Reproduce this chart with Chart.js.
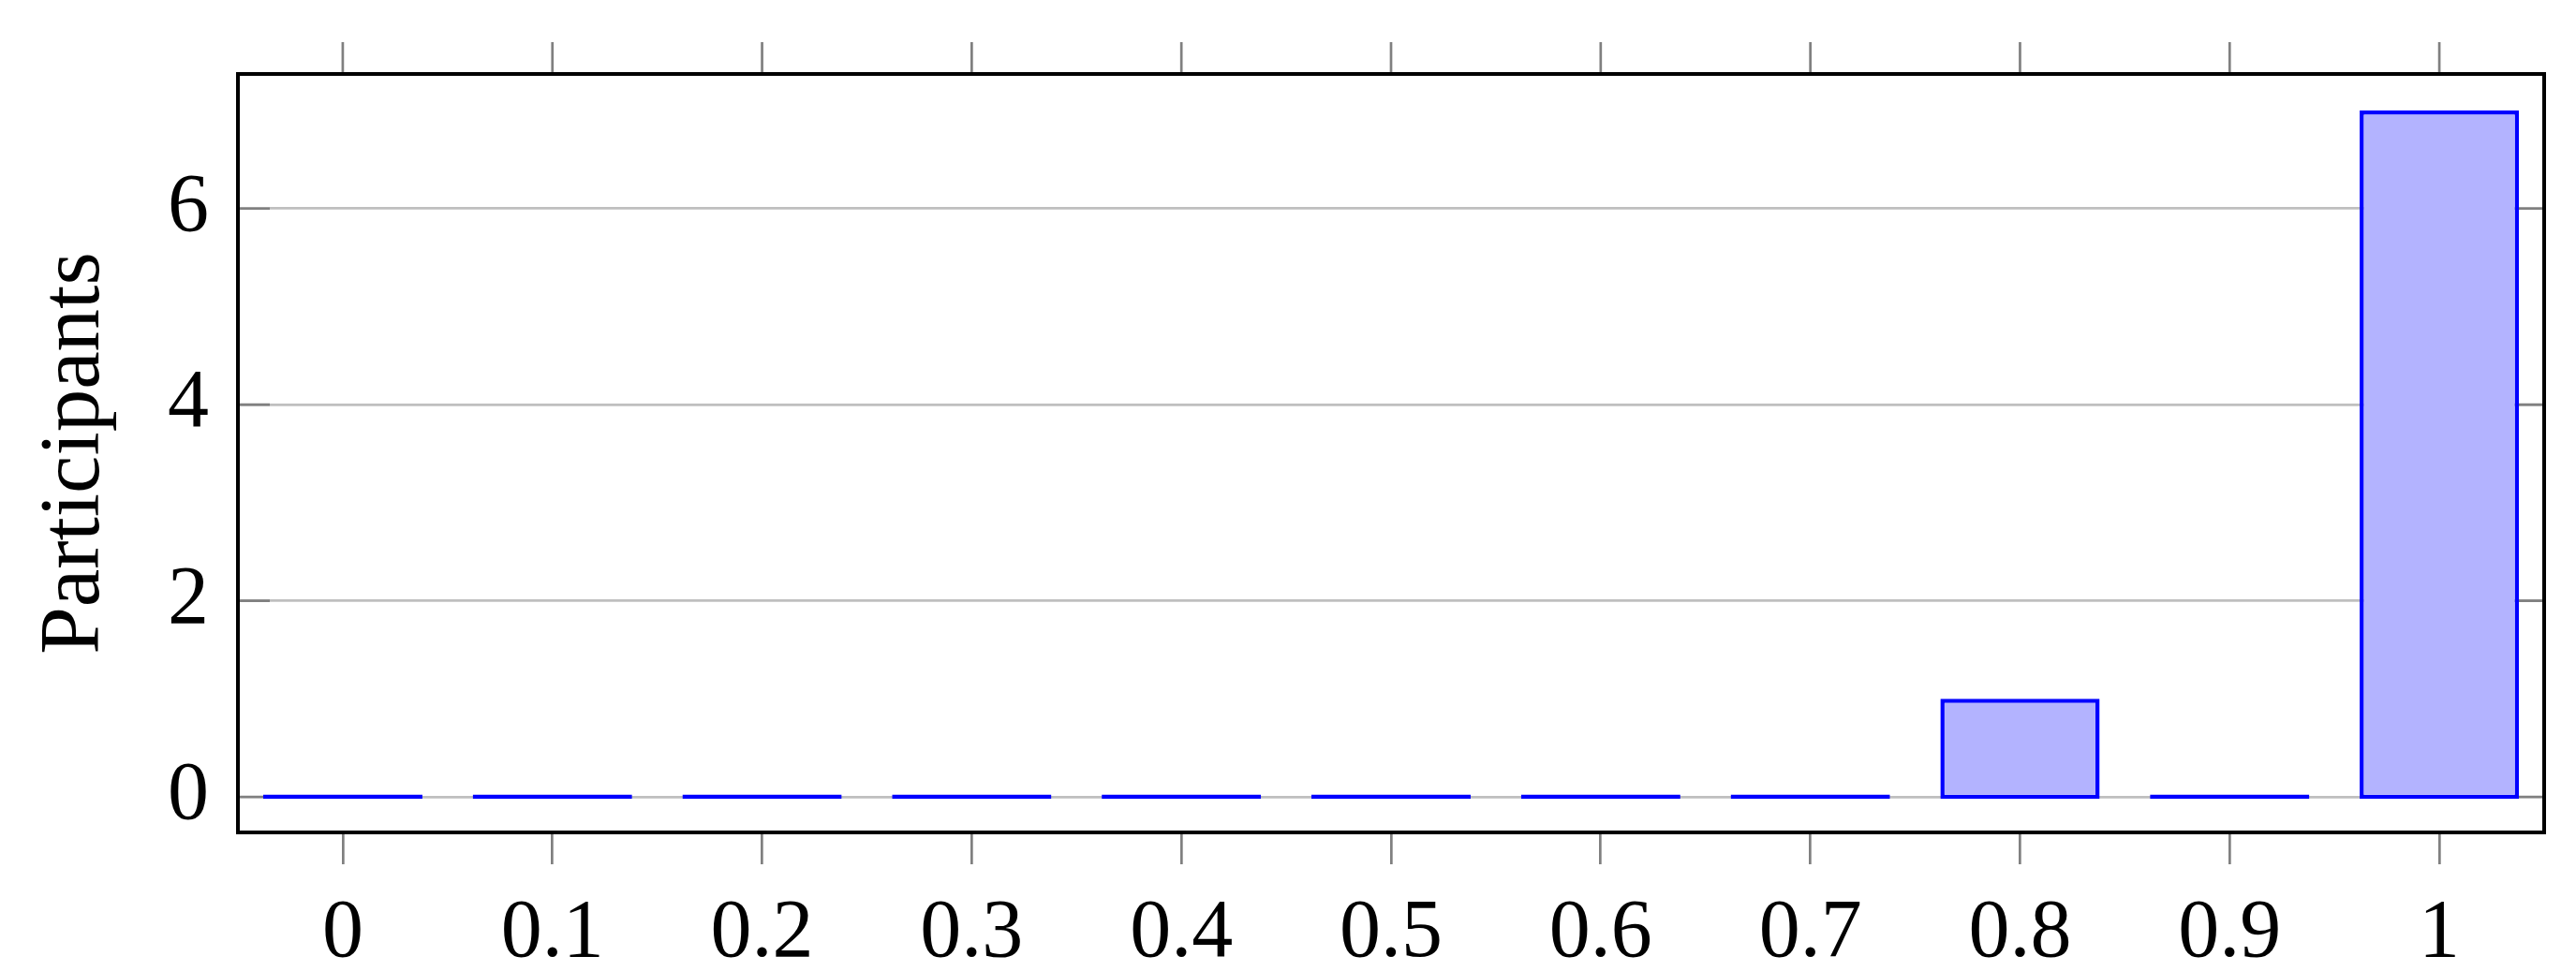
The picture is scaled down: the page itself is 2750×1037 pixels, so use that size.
<!DOCTYPE html>
<html>
<head>
<meta charset="utf-8">
<title>Participants histogram</title>
<script src="https://cdn.jsdelivr.net/npm/chart.js@4.4.0/dist/chart.umd.min.js"></script>
<style>
  html, body { margin: 0; padding: 0; background: #fff; }
  canvas { display: block; }
</style>
</head>
<body>
<canvas id="chart" width="2750" height="1037"></canvas>
<script>
// data
const scores = ["0", "0.1", "0.2", "0.3", "0.4", "0.5", "0.6", "0.7", "0.8", "0.9", "1"];
const participants = [0, 0, 0, 0, 0, 0, 0, 0, 1, 0, 7];
const yTicks = [0, 2, 4, 6];

const FONT = "'Liberation Serif', 'Times New Roman', serif";
const TICK_GRAY = "#808080";

// frame, top tick marks and the short inner y ticks (pgfplots look)
const framePlugin = {
  id: "frame",
  beforeDatasetsDraw(chart) {
    const { ctx, chartArea: a, scales } = chart;
    ctx.save();
    ctx.strokeStyle = TICK_GRAY;
    ctx.lineWidth = 2.7;
    yTicks.forEach(v => {
      const y = scales.y.getPixelForValue(v);
      ctx.beginPath();
      ctx.moveTo(a.left, y);
      ctx.lineTo(a.left + 34, y);
      ctx.moveTo(a.right - 34, y);
      ctx.lineTo(a.right, y);
      ctx.stroke();
    });
    ctx.restore();
  },
  afterDatasetsDraw(chart) {
    const { ctx, chartArea: a, scales } = chart;
    ctx.save();
    ctx.strokeStyle = TICK_GRAY;
    ctx.lineWidth = 2.7;
    scores.forEach((s, i) => {
      const x = scales.x.getPixelForValue(i);
      ctx.beginPath();
      ctx.moveTo(x, a.top);
      ctx.lineTo(x, a.top - 34);
      ctx.stroke();
    });
    ctx.strokeStyle = "#000";
    ctx.lineWidth = 4;
    ctx.strokeRect(a.left, a.top, a.right - a.left, a.bottom - a.top);
    ctx.restore();
  }
};

new Chart(document.getElementById("chart"), {
  type: "bar",
  data: {
    labels: scores,
    datasets: [{
      data: participants,
      backgroundColor: "#b3b3ff",
      borderColor: "#0000ff",
      borderWidth: 4.5,
      borderSkipped: false,
      base: -0.022,
      minBarLength: 4.8,
      barPercentage: 0.76,
      categoryPercentage: 1
    }]
  },
  options: {
    responsive: false,
    animation: false,
    devicePixelRatio: 1,
    layout: { padding: { left: 0, right: 34, top: 79, bottom: 0 } },
    plugins: {
      legend: { display: false },
      tooltip: { enabled: false }
    },
    scales: {
      x: {
        type: "category",
        offset: true,
        grid: {
          offset: false,
          drawOnChartArea: false,
          drawTicks: true,
          tickLength: 34,
          color: TICK_GRAY,
          lineWidth: 2.7
        },
        border: { display: false },
        ticks: {
          color: "#000",
          padding: 22,
          maxRotation: 0,
          autoSkip: false,
          font: { family: FONT, size: 88 }
        },
        afterFit(scale) {
          scale.height = 148;
          scale.paddingLeft = 0;
          scale.paddingRight = 0;
        }
      },
      y: {
        min: -0.363,
        max: 7.373,
        afterBuildTicks(scale) { scale.ticks = yTicks.map(v => ({ value: v })); },
        grid: {
          color: "#bfbfbf",
          lineWidth: 2.7,
          drawTicks: false
        },
        border: { display: false },
        ticks: {
          color: "#000",
          padding: 31,
          font: { family: FONT, size: 88 }
        },
        title: {
          display: true,
          text: "Participants",
          color: "#000",
          padding: { top: 26 },
          font: { family: FONT, size: 91 }
        },
        afterFit(scale) {
          scale.width = 254;
          scale.paddingTop = 0;
          scale.paddingBottom = 0;
        }
      }
    }
  },
  plugins: [framePlugin]
});
</script>
</body>
</html>
